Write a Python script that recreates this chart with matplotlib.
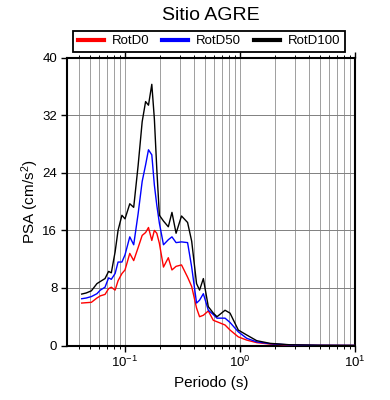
import matplotlib
matplotlib.use("Agg")
import matplotlib.pyplot as plt
from matplotlib.lines import Line2D
from matplotlib.ticker import LogLocator, NullFormatter

plt.rcParams['font.family'] = ['Liberation Sans', 'DejaVu Sans']
plt.rcParams['mathtext.fontset'] = 'custom'
plt.rcParams['mathtext.rm'] = 'Liberation Sans'
plt.rcParams['mathtext.it'] = 'Liberation Sans:italic'
plt.rcParams['mathtext.default'] = 'regular'

title = "Sitio AGRE"
series_names = ["RotD0", "RotD50", "RotD100"]
series_colors = ["#ff0000", "#0000ff", "#000000"]

period = [0.042, 0.046, 0.051, 0.057, 0.061, 0.067, 0.072, 0.076, 0.082, 0.087,
          0.094, 0.100, 0.110, 0.119, 0.130, 0.141, 0.151, 0.160, 0.171, 0.180,
          0.189, 0.199, 0.216, 0.238, 0.256, 0.278, 0.310, 0.350, 0.380, 0.419,
          0.445, 0.480, 0.530, 0.586, 0.631, 0.741, 0.819, 0.966, 1.144, 1.397,
          1.823, 2.72, 4.96, 10.0]

rotd0 = [5.9, 5.95, 6.0, 6.6, 6.9, 7.1, 7.9, 8.1, 7.7, 9.0,
         10.0, 10.5, 12.8, 11.8, 13.6, 15.3, 15.7, 16.4, 14.6, 16.0,
         15.6, 14.2, 10.9, 12.2, 10.5, 11.0, 11.2, 9.5, 8.2, 5.2,
         4.0, 4.2, 4.8, 3.5, 3.3, 2.85, 2.15, 1.2, 0.75, 0.4,
         0.2, 0.06, 0.02, 0.006]

rotd50 = [6.5, 6.6, 6.8, 7.2, 7.7, 8.1, 9.4, 9.2, 10.0, 11.6,
          11.6, 12.6, 15.1, 14.0, 18.3, 22.8, 25.1, 27.2, 26.5, 22.3,
          19.5, 17.0, 14.0, 14.7, 15.1, 14.3, 14.4, 14.3, 10.9, 5.9,
          6.3, 7.2, 4.9, 4.3, 3.8, 3.8, 3.2, 1.9, 1.0, 0.5,
          0.25, 0.08, 0.025, 0.008]

rotd100 = [7.15, 7.3, 7.6, 8.6, 8.9, 9.3, 10.3, 10.1, 13.0, 16.0,
           18.1, 17.6, 19.7, 19.2, 25.0, 31.1, 33.9, 33.4, 36.3, 31.5,
           24.5, 18.1, 17.3, 16.5, 18.5, 15.6, 18.0, 17.1, 14.5, 8.6,
           7.7, 9.3, 5.4, 4.5, 4.0, 4.9, 4.5, 2.15, 1.46, 0.67,
           0.3, 0.1, 0.03, 0.01]

yticks = [0, 8, 16, 24, 32, 40]
xlim = (0.0313, 10.0)
ylim = (0, 40)

fig = plt.figure(figsize=(3.9, 4.0), dpi=100)
ax = fig.add_axes([67/390, 54.5/400, 288/390, 287.8/400])

for vals, name, col in zip([rotd0, rotd50, rotd100], series_names, series_colors):
    ax.plot(period, vals, color=col, lw=1.0, label=name, zorder=3)

ax.set_xscale('log')
ax.set_xlim(*xlim)
ax.set_ylim(*ylim)
ax.set_yticks(yticks)
ax.xaxis.set_major_locator(LogLocator(base=10, numticks=10))
ax.xaxis.set_minor_locator(LogLocator(base=10, subs=range(2, 10), numticks=20))
ax.xaxis.set_minor_formatter(NullFormatter())

ax.grid(True, which='both', axis='x', color='0.62', lw=0.7, zorder=0)
ax.grid(True, which='major', axis='y', color='0.5', lw=0.7, zorder=0)

for s in ax.spines.values():
    s.set_linewidth(1.5)

ax.tick_params(axis='both', which='major', direction='out', length=4, width=1.0,
               labelsize=9.5, top=True, right=False, pad=3)
ax.tick_params(axis='x', which='minor', direction='out', length=2.5, width=0.7,
               top=True, bottom=True)

ax.set_xlabel("Periodo (s)", fontsize=11, labelpad=4)
ax.set_ylabel("PSA (cm/s$^2$)", fontsize=11, labelpad=1)
ax.set_title(title, fontsize=14, pad=27)

handles = [Line2D([], [], color=c, lw=3.0) for c in series_colors]
leg = fig.legend(handles, series_names, loc='lower left', ncol=3, mode='expand',
                 bbox_to_anchor=(73/390, 348/400, 272/390, 24/400),
                 fontsize=9.5, frameon=True, fancybox=False, framealpha=1,
                 edgecolor='black', handlelength=2.0, handletextpad=0.6,
                 borderpad=0.35, borderaxespad=0)
leg.get_frame().set_linewidth(1.3)

fig.savefig("out.png", dpi=100)
